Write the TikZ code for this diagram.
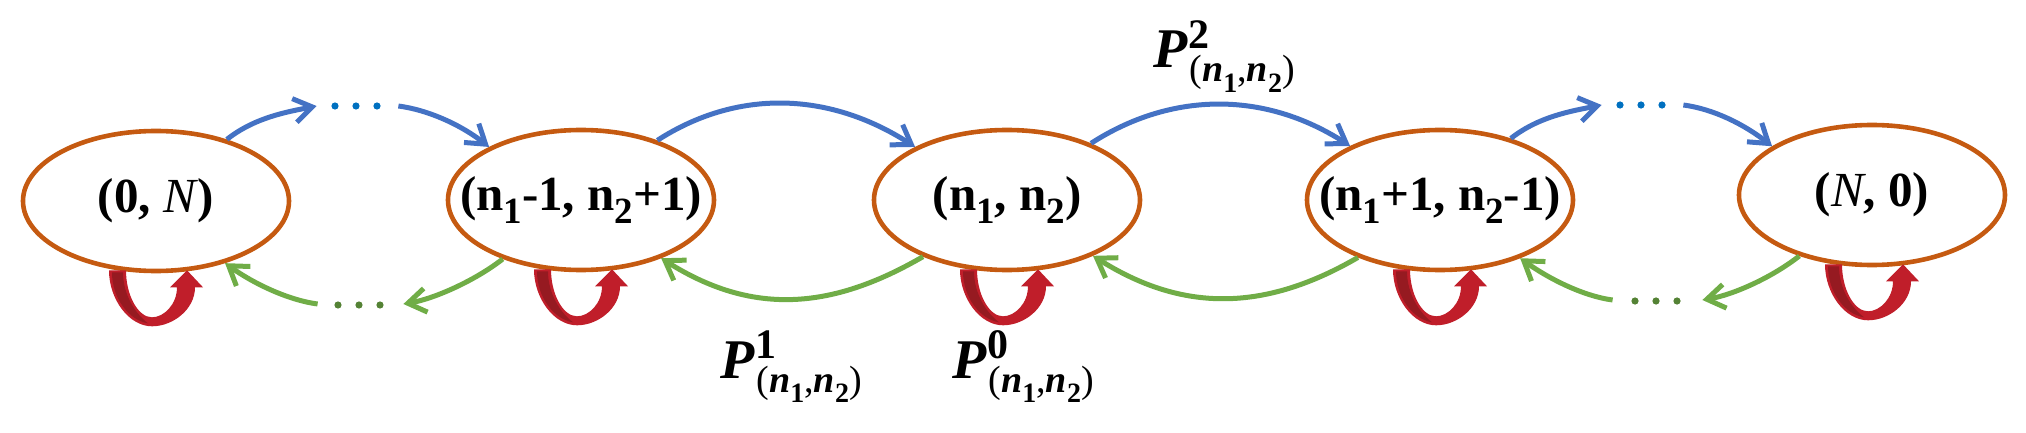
\documentclass[tikz,border=0pt]{standalone}
\usepackage{fontspec}
\setmainfont{Liberation Serif}
\usetikzlibrary{shapes.geometric,arrows.meta}
\definecolor{eorange}{HTML}{C55A11}
\definecolor{ablue}{HTML}{4472C4}
\definecolor{agreen}{HTML}{70AD47}
\definecolor{dblue}{HTML}{0070C0}
\definecolor{dgreen}{HTML}{548235}
\definecolor{lred}{HTML}{C01E2A}
\definecolor{dred}{HTML}{961A21}
\newcommand{\sbb}[1]{\raisebox{-6.5pt}{\fontsize{18.5}{20}\selectfont #1}}
\newcommand{\ssb}[1]{\raisebox{-5.5pt}{\fontsize{14}{15}\selectfont\bfseries\upshape #1}}
\newcommand{\plab}[1]{{\fontsize{28}{30}\selectfont\bfseries\itshape P}%
\rlap{\kern0.3pt\raisebox{9.5pt}{\fontsize{21}{23}\selectfont\bfseries\upshape #1}}%
\kern1pt\raisebox{-7pt}{\fontsize{19}{21}\selectfont\mdseries\upshape(\textbf{\textit{n}}\ssb{1},\textbf{\textit{n}}\ssb{2})}}
\begin{document}
\begin{tikzpicture}[x=0.5pt,y=-0.5pt,
  state/.style={ellipse, draw=eorange, line width=2.3pt, minimum width=133pt,
    minimum height=70pt, inner sep=0pt, font=\fontsize{24.5}{28}\selectfont\bfseries},
  fwd/.style={draw=ablue, line width=2.5pt, -{Straight Barb[length=9pt,width=12pt]}},
  bwd/.style={draw=agreen, line width=2.5pt, -{Straight Barb[length=9pt,width=12pt]}},
  dotsbox/.style={inner sep=0pt, minimum height=4pt},
  lab/.style={anchor=base west, inner sep=0pt},
  redloop/.pic={
    \fill[lred] (-47,-3) .. controls (-47,26) and (-27,53) .. (-4,53)
      .. controls (17,53) and (39,36) .. (39,14) -- (47,14) -- (31,-3) -- (14,14) -- (21,14)
      .. controls (21,31) and (8,44) .. (-4,44)
      .. controls (-18,44) and (-30,22) .. (-30,-3) -- cycle;
    \fill[dred] (-44,-1) .. controls (-44,25) and (-27,47) .. (-8,50)
      .. controls (-20,41) and (-33,22) .. (-33,-1) -- cycle;
  },
  dotrow/.pic={
    \fill[#1] (-21,0) circle[radius=1.8pt];
    \fill[#1] (0,0) circle[radius=1.8pt];
    \fill[#1] (21,0) circle[radius=1.8pt];
  }
]
\useasboundingbox (0,0) rectangle (2026,433);
% states
\node[state] (e1) at (156,201) {\makebox[0pt]{(0, \textit{\mdseries N})}};
\node[state] (e2) at (581,200) {\makebox[0pt]{(n\sbb{1}-1, n\sbb{2}+1)}};
\node[state] (e3) at (1007,200) {\makebox[0pt]{(n\sbb{1}, n\sbb{2})}};
\node[state] (e4) at (1440,200) {\makebox[0pt]{(n\sbb{1}+1, n\sbb{2}-1)}};
\node[state] (e5) at (1872,195) {\makebox[0pt]{(\textit{\mdseries N}, 0)}};
% dots
\node[dotsbox, minimum width=40.5pt] (dt1) at (357.5,106) {};
\node[dotsbox, minimum width=40.5pt] (dt2) at (1642.5,105) {};
\node[dotsbox, minimum width=42.5pt] (db1) at (360.5,304) {};
\node[dotsbox, minimum width=44.5pt] (db2) at (1657.5,300) {};
\pic at (356,106) {dotrow=dblue};
\pic at (1641,105) {dotrow=dblue};
\pic at (359,305) {dotrow=dgreen};
\pic at (1656,301) {dotrow=dgreen};
% forward (blue)
\draw[fwd] (e1.41) .. controls +(28,-22) and +(-30,6) .. (dt1.west);
\draw[fwd] (dt1.east) .. controls +(30,4) and +(-28,-22) .. (e2.150);
\draw[fwd] (e2.38) .. controls +(79,-51) and +(-87,-56) .. (e3.150);
\draw[fwd] (e3.34) .. controls +(79,-51) and +(-87,-56) .. (e4.149);
\draw[fwd] (e4.41) .. controls +(28,-22) and +(-30,6) .. (dt2.west);
\draw[fwd] (dt2.east) .. controls +(30,4) and +(-28,-22) .. (e5.154);
% backward (green)
\draw[bwd] (e5.220) .. controls +(-28,22) and +(30,-5) .. (db2.east);
\draw[bwd] (db2.west) .. controls +(-30,-4) and +(28,20) .. (e4.324);
\draw[bwd] (e4.215) .. controls +(-93,54) and +(90,57) .. (e3.327);
\draw[bwd] (e3.214) .. controls +(-93,54) and +(90,57) .. (e2.324);
\draw[bwd] (e2.217) .. controls +(-28,22) and +(30,-5) .. (db1.east);
\draw[bwd] (db1.west) .. controls +(-30,-4) and +(28,20) .. (e1.318);
% self loops
\pic at (e1.south) {redloop};
\pic at (e2.south) {redloop};
\pic at (e3.south) {redloop};
\pic at (e4.south) {redloop};
\pic at (e5.south) {redloop};
% labels
\node[lab] (p2) at (1153,68) {\plab{2}};
\node[lab] (p1) at (720,378) {\plab{1}};
\node[lab] (p0) at (952,378) {\plab{0}};
\end{tikzpicture}
\end{document}
